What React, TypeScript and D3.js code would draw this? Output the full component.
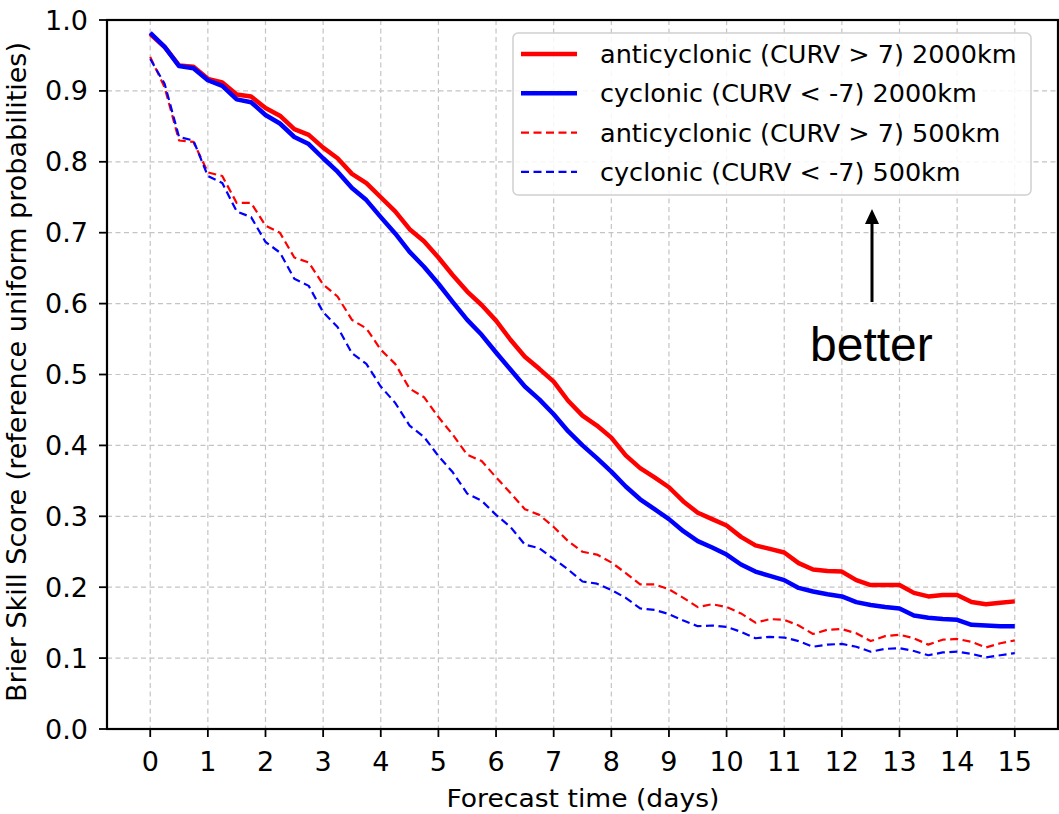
import React from 'react';
import * as d3 from 'd3';

// forecast time (days), 6-hourly steps from 0 to 15
const days = d3.range(0, 61).map((i) => i / 4);

const antiLarge = [
  0.980, 0.962, 0.936, 0.934, 0.917, 0.912, 0.895, 0.892, 0.876, 0.865,
  0.846, 0.838, 0.820, 0.805, 0.783, 0.770, 0.750, 0.730, 0.705, 0.688,
  0.665, 0.640, 0.617, 0.598, 0.576, 0.549, 0.525, 0.508, 0.490, 0.463,
  0.442, 0.428, 0.411, 0.386, 0.368, 0.355, 0.341, 0.321, 0.305, 0.296,
  0.287, 0.271, 0.259, 0.254, 0.249, 0.234, 0.225, 0.223, 0.222, 0.210,
  0.203, 0.203, 0.203, 0.192, 0.187, 0.189, 0.189, 0.179, 0.176, 0.178,
  0.180,
];
const cycLarge = [
  0.982, 0.962, 0.935, 0.932, 0.915, 0.907, 0.888, 0.884, 0.866, 0.854,
  0.835, 0.825, 0.805, 0.786, 0.763, 0.746, 0.722, 0.699, 0.673, 0.652,
  0.628, 0.602, 0.577, 0.556, 0.531, 0.507, 0.483, 0.465, 0.444, 0.420,
  0.400, 0.382, 0.363, 0.342, 0.324, 0.310, 0.296, 0.279, 0.265, 0.256,
  0.246, 0.232, 0.222, 0.216, 0.210, 0.199, 0.194, 0.190, 0.187, 0.179,
  0.175, 0.172, 0.170, 0.160, 0.157, 0.155, 0.154, 0.147, 0.146, 0.145,
  0.145,
];
const antiSmall = [
  0.948, 0.905, 0.830, 0.828, 0.785, 0.780, 0.742, 0.742, 0.710, 0.700,
  0.665, 0.658, 0.627, 0.610, 0.577, 0.565, 0.535, 0.515, 0.480, 0.468,
  0.440, 0.415, 0.387, 0.378, 0.355, 0.333, 0.310, 0.302, 0.285, 0.265,
  0.250, 0.246, 0.235, 0.220, 0.204, 0.204, 0.197, 0.185, 0.172, 0.176,
  0.172, 0.163, 0.150, 0.155, 0.154, 0.146, 0.134, 0.140, 0.141, 0.135,
  0.124, 0.131, 0.133, 0.128, 0.119, 0.126, 0.127, 0.123, 0.115, 0.121,
  0.125,
];
const cycSmall = [
  0.945, 0.910, 0.835, 0.830, 0.780, 0.770, 0.730, 0.722, 0.687, 0.672,
  0.635, 0.625, 0.588, 0.567, 0.530, 0.515, 0.483, 0.460, 0.428, 0.412,
  0.385, 0.362, 0.332, 0.322, 0.302, 0.285, 0.260, 0.255, 0.240, 0.225,
  0.208, 0.205, 0.196, 0.185, 0.170, 0.168, 0.162, 0.153, 0.145, 0.146,
  0.144, 0.137, 0.128, 0.130, 0.129, 0.124, 0.116, 0.119, 0.120, 0.116,
  0.109, 0.113, 0.114, 0.110, 0.104, 0.108, 0.109, 0.106, 0.101, 0.104,
  0.107,
];

const xTickValues = [0, 1, 2, 3, 4, 5, 6, 7, 8, 9, 10, 11, 12, 13, 14, 15];
const yTickValues = [0, 0.1, 0.2, 0.3, 0.4, 0.5, 0.6, 0.7, 0.8, 0.9, 1.0];
const yTickLabels = ['0.0', '0.1', '0.2', '0.3', '0.4', '0.5', '0.6', '0.7', '0.8', '0.9', '1.0'];

const seriesNames = [
  'anticyclonic (CURV > 7) 2000km',
  'cyclonic (CURV < -7) 2000km',
  'anticyclonic (CURV > 7) 500km',
  'cyclonic (CURV < -7) 500km',
];
const seriesValues = [antiLarge, cycLarge, antiSmall, cycSmall];
const seriesColors = ['#ff0000', '#0000ff', '#ff0000', '#0000ff'];
const seriesWidths = [4.5, 4.5, 2.2, 2.2];
const seriesDash = [null, null, '8,4.5', '8,4.5'];

const xLabel = 'Forecast time (days)';
const yLabel = 'Brier Skill Score (reference uniform probabilities)';
const annotation = 'better';

export default function App() {
  const W = 1059;
  const H = 814;
  const left = 107;
  const right = 1058;
  const top = 20;
  const bottom = 729;

  const x = d3.scaleLinear().domain([-0.75, 15.75]).range([left, right]);
  const y = d3.scaleLinear().domain([0, 1]).range([bottom, top]);

  const line = d3
    .line<number>()
    .x((_, i) => x(days[i]))
    .y((d) => y(d));

  const font = 'DejaVu Sans, sans-serif';
  const gridStyle = { stroke: '#c4c4c4', strokeWidth: 1.2, strokeDasharray: '5,3.5' };

  // legend layout
  const legX = 513;
  const legY = 33;
  const legW = 518;
  const legH = 162;
  const rowY = (i: number) => 54 + i * 39.3;

  return (
    <svg
      width={W}
      height={H}
      viewBox={`0 0 ${W} ${H}`}
      style={{ position: 'absolute', left: 0, top: 0, background: '#fff' }}
    >
      <rect x={0} y={0} width={W} height={H} fill="#fff" />
      <defs>
        <clipPath id="plotclip">
          <rect x={left} y={top} width={right - left} height={bottom - top} />
        </clipPath>
      </defs>
      {/* grid */}
      {xTickValues.map((t) => (
        <line key={'gx' + t} x1={x(t)} x2={x(t)} y1={top} y2={bottom} style={gridStyle} />
      ))}
      {yTickValues.map((t) => (
        <line key={'gy' + t} x1={left} x2={right} y1={y(t)} y2={y(t)} style={gridStyle} />
      ))}

      {/* series */}
      <g clipPath="url(#plotclip)">
        {seriesValues.map((vals, i) => (
          <path
            key={'s' + i}
            d={line(vals) || ''}
            fill="none"
            stroke={seriesColors[i]}
            strokeWidth={seriesWidths[i]}
            strokeDasharray={seriesDash[i] || undefined}
            strokeLinejoin="round"
          />
        ))}
      </g>

      {/* spines */}
      <rect x={left} y={top} width={right - left} height={bottom - top} fill="none" stroke="#000" strokeWidth={2.2} />

      {/* x ticks */}
      {xTickValues.map((t) => (
        <g key={'xt' + t}>
          <line x1={x(t)} x2={x(t)} y1={bottom} y2={bottom + 8} stroke="#000" strokeWidth={1.8} />
          <text
            x={x(t)}
            y={761}
            textAnchor="middle"
            dominantBaseline="central"
            fontFamily={font}
            fontSize={27}
            fill="#000"
          >
            {String(t)}
          </text>
        </g>
      ))}

      {/* y ticks */}
      {yTickValues.map((t, i) => (
        <g key={'yt' + t}>
          <line x1={left - 8} x2={left} y1={y(t)} y2={y(t)} stroke="#000" strokeWidth={1.8} />
          <text
            x={88}
            y={y(t)}
            textAnchor="end"
            dominantBaseline="central"
            fontFamily={font}
            fontSize={27}
            fill="#000"
          >
            {yTickLabels[i]}
          </text>
        </g>
      ))}

      {/* axis labels */}
      <text
        x={583}
        y={798}
        textAnchor="middle"
        dominantBaseline="central"
        fontFamily={font}
        fontSize={25}
        textLength={273}
        lengthAdjust="spacingAndGlyphs"
        fill="#000"
      >
        {xLabel}
      </text>
      <text
        transform={`translate(17, 372) rotate(-90)`}
        textAnchor="middle"
        dominantBaseline="central"
        fontFamily={font}
        fontSize={26}
        textLength={660}
        lengthAdjust="spacingAndGlyphs"
        fill="#000"
      >
        {yLabel}
      </text>

      {/* legend */}
      <rect x={legX} y={legY} width={legW} height={legH} rx={5} fill="#fff" fillOpacity={0.85} stroke="#d0d0d0" strokeWidth={1.5} />
      {seriesNames.map((name, i) => (
        <g key={'lg' + i}>
          <line
            x1={521}
            x2={577}
            y1={rowY(i)}
            y2={rowY(i)}
            stroke={seriesColors[i]}
            strokeWidth={seriesWidths[i]}
            strokeDasharray={seriesDash[i] || undefined}
          />
          <text x={600} y={rowY(i)} dominantBaseline="central" fontFamily={font} fontSize={25.5} fill="#000">
            {name}
          </text>
        </g>
      ))}

      {/* annotation arrow */}
      <line x1={872} x2={872} y1={302} y2={222} stroke="#000" strokeWidth={3} />
      <path d="M 865 224 L 879 224 L 872 209 Z" fill="#000" />
      <text x={810} y={361} fontFamily="Liberation Sans, Arial, sans-serif" fontSize={48} fill="#000">
        {annotation}
      </text>
    </svg>
  );
}
